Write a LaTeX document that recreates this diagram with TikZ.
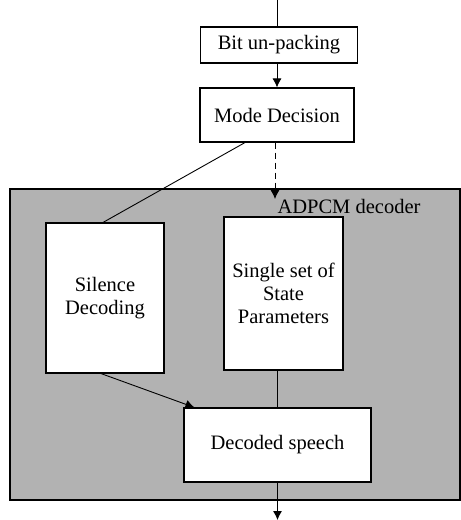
\documentclass[tikz,border=0pt]{standalone}
\usepackage{fontspec}
\setmainfont{Liberation Serif}
\usetikzlibrary{arrows.meta}
\begin{document}
\begin{tikzpicture}[
        x=1pt, y=-1pt,
        box/.style={rectangle, draw, fill=white, line width=1.1pt, inner sep=0pt, text centered, align=center, font=\fontsize{20.5}{23}\selectfont},
        arrow/.style={-{Latex[length=9pt, width=9pt]}, line width=0.9pt},
        link/.style={line width=0.9pt},
        label/.style={font=\fontsize{20.5}{23}\selectfont}
    ]
    \useasboundingbox (0,0) rectangle (461,520);

    % Y coordinates (px, downwards):
    % 45: Bit un-packing
    % 115: Mode Decision
    % 189-500: ADPCM decoder block
    % 445: Decoded speech

    % Decoder block
    \node[draw, line width=1.1pt, fill=black!30, inner sep=0pt, minimum width=450pt, minimum height=311pt] (decoder) at (235, 344.5) {};
    \node[label, anchor=west] (decname) at (274, 206) {ADPCM decoder};

    % Top chain
    \coordinate (in) at (277, 0);
    \node[box, minimum width=157pt, minimum height=36pt] (unpack) at (279, 45) {Bit un-packing};
    \node[box, minimum width=154pt, minimum height=54pt] (mode) at (277, 115) {Mode Decision};

    \draw[link] (in) -- (in |- unpack.north);
    \draw[arrow] (unpack.south -| mode.north) -- (mode.north);

    % Inside the decoder
    \node[box, minimum width=118pt, minimum height=150pt] (silence) at (105, 298) {Silence\\Decoding};
    \node[box, minimum width=119pt, minimum height=153pt] (state) at (283.5, 293.5) {Single set of\\State\\Parameters};
    \node[box, minimum width=187pt, minimum height=74pt] (speech) at (277.5, 445) {Decoded speech};

    \coordinate (dtip) at (275, 199);
    \coordinate (out) at (277.5, 520);

    \draw[link] ([xshift=-32pt]mode.south) -- ([xshift=-2pt]silence.north);
    \draw[arrow, dash pattern=on 6pt off 4pt] ([xshift=-2pt]mode.south) -- (dtip);
    \draw[arrow] ([xshift=-4pt]silence.south) -- ([xshift=11pt]speech.north west);
    \draw[link] (speech.north |- state.south) -- (speech.north);
    \draw[arrow] (speech.south) -- (out);

\end{tikzpicture}
\end{document}
